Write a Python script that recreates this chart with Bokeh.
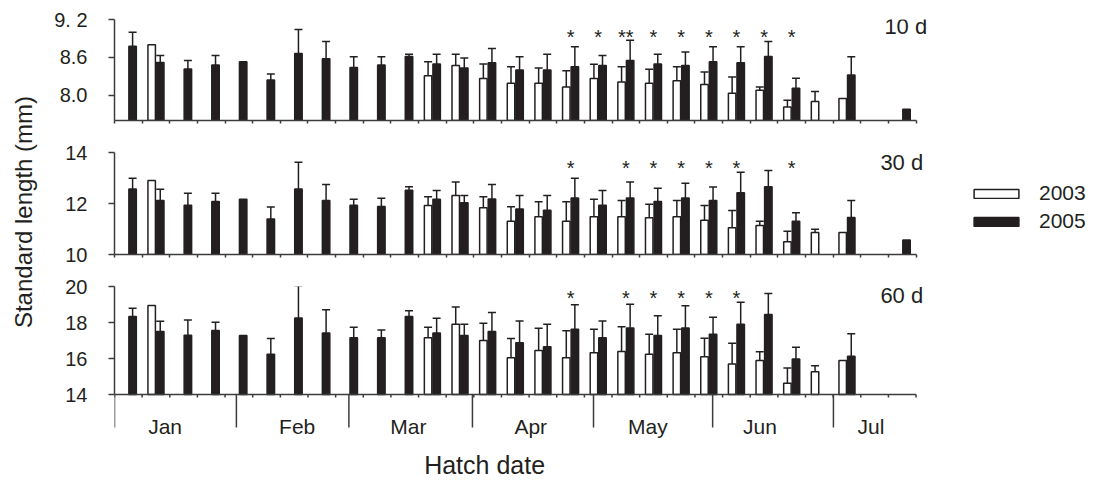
import math
from bokeh.plotting import figure
from bokeh.models import (ColumnDataSource, Range1d, FixedTicker, Whisker, TeeHead,
                          Label, Legend, LegendItem)
from bokeh.layouts import row, column
from bokeh.transform import dodge
from bokeh.core.properties import value
from bokeh.embed import file_html
from bokeh.resources import INLINE

N = None
FONT = "Liberation Sans"
INK = "#231f20"
AX = "#3c3c3c"

# ---------------- data (29 weekly hatch-date bins, Jan..Jul) ----------------
weeks = list(range(29))

# 10 d standard length (mm): means and standard errors
m10_2003 = [N, 8.80, N, N, N, N, N, N, N, N, N, 8.31, 8.47, 8.265, 8.19, 8.19, 8.13, 8.265,
            8.21, 8.19, 8.23, 8.17, 8.03, 8.08, 7.815, 7.90, 7.95, N, N]
e10_2003 = [N, 0, N, N, N, N, N, N, N, N, N, 0.22, 0.18, 0.23, 0.26, 0.24, 0.26, 0.225,
            0.24, 0.22, 0.22, 0.20, 0.26, 0.05, 0.105, 0.16, 0, N, N]
m10_2005 = [8.775, 8.52, 8.415, 8.48, 8.53, 8.24, 8.66, 8.58, 8.44, 8.48, 8.615, 8.495, 8.43,
            8.515, 8.40, 8.40, 8.45, 8.47, 8.55, 8.495, 8.47, 8.53, 8.515, 8.615, 8.11, N, 8.32, N, 7.78]
e10_2005 = [0.225, 0.11, 0.135, 0.15, 0, 0.095, 0.38, 0.27, 0.17, 0.13, 0.035, 0.155, 0.16,
            0.225, 0.21, 0.25, 0.32, 0.16, 0.32, 0.155, 0.215, 0.24, 0.255, 0.235, 0.16, N, 0.29, N, 0]

# 30 d
m30_2003 = [N, 12.90, N, N, N, N, N, N, N, N, N, 11.92, 12.31, 11.83, 11.30, 11.48, 11.30, 11.48,
            11.48, 11.44, 11.48, 11.34, 11.05, 11.14, 10.50, 10.86, 10.86, N, N]
e30_2003 = [N, 0, N, N, N, N, N, N, N, N, N, 0.34, 0.53, 0.43, 0.57, 0.59, 0.77, 0.69,
            0.64, 0.53, 0.64, 0.58, 0.68, 0.16, 0.41, 0.13, 0, N, N]
m30_2005 = [12.57, 12.12, 11.93, 12.08, 12.17, 11.39, 12.57, 12.12, 11.93, 11.88, 12.52, 12.17, 12.03,
            12.18, 11.78, 11.74, 12.22, 11.93, 12.22, 12.08, 12.22, 12.12, 12.42, 12.66, 11.30, N, 11.45, N, 10.57]
e30_2005 = [0.42, 0.44, 0.47, 0.32, 0, 0.47, 1.05, 0.63, 0.24, 0.33, 0.14, 0.34, 0.28,
            0.57, 0.53, 0.57, 0.77, 0.58, 0.62, 0.52, 0.57, 0.53, 0.81, 0.63, 0.34, N, 0.67, N, 0]

# 60 d
m60_2003 = [N, 18.95, N, N, N, N, N, N, N, N, N, 17.15, 17.90, 17.00, 16.04, 16.45, 16.04, 16.32,
            16.39, 16.24, 16.32, 16.10, 15.69, 15.89, 14.62, 15.27, 15.89, N, N]
e60_2003 = [N, 0, N, N, N, N, N, N, N, N, N, 0.59, 0.96, 0.96, 1.07, 1.23, 1.50, 1.31,
            1.37, 1.11, 1.31, 1.03, 1.16, 0.48, 0.85, 0.33, 0, N, N]
m60_2005 = [18.33, 17.50, 17.29, 17.55, 17.28, 16.24, 18.25, 17.42, 17.15, 17.15, 18.33, 17.42, 17.28,
            17.50, 16.87, 16.65, 17.63, 17.15, 17.70, 17.28, 17.70, 17.35, 17.90, 18.45, 15.97, N, 16.12, N, N]
e60_2005 = [0.46, 0.57, 0.85, 0.46, 0, 0.87, 1.79, 1.29, 0.59, 0.44, 0.33, 0.81, 0.62,
            1.06, 1.22, 1.25, 1.36, 0.94, 1.31, 1.10, 1.23, 0.94, 1.22, 1.16, 0.66, N, 1.25, N, N]

# significance marks (bin index, text)
stars10 = [16, 17, 18, 19, 20, 21, 22, 23, 24]
stars10_txt = ["*", "*", "**", "*", "*", "*", "*", "*", "*"]
stars30 = [16, 18, 19, 20, 21, 22, 24]
stars60 = [16, 18, 19, 20, 21, 22]

# axis ticks
yticks10 = [8.0, 8.6, 9.2]
yticks10_lbl = ["8.0", "8.6", "9. 2"]
yticks30 = [10, 12, 14]
yticks60 = [14, 16, 18, 20]
bin_edges = list(range(30))

months = ["Jan", "Feb", "Mar", "Apr", "May", "Jun", "Jul"]
month_start = [0, 4.41, 8.48, 12.95, 17.33, 21.64, 26.01]
month_mid = [1.83, 6.61, 10.63, 15.06, 19.30, 23.35, 27.37]

series_names = ["2003", "2005"]

# ---------------- layout constants ----------------
W_LAB = 40
W_MAIN = 1058
BL = 74
X_END = 35.6        # frame extends right so that panel tags / legend are not clipped
OFF = 0.155
BW = 0.27


def style_yaxis(p, yticks, ylabels, bounds):
    ya = p.yaxis[0]
    ya.ticker = FixedTicker(ticks=yticks)
    ya.major_label_overrides = {t: l for t, l in zip(yticks, ylabels)}
    ya.bounds = bounds
    ya.major_tick_out = 6
    ya.major_tick_in = 0
    ya.minor_tick_out = 0
    ya.minor_tick_in = 0
    ya.major_label_standoff = 21
    ya.major_label_text_font = FONT
    ya.major_label_text_font_size = "20px"
    ya.major_label_text_color = INK
    ya.axis_line_color = AX
    ya.axis_line_width = 1.5
    ya.major_tick_line_color = AX
    ya.major_tick_line_width = 1.5


def make_panel(height, btop, bbot, y0, y1, ybase, ytop, yticks, ylabels, m03, e03, m05, e05,
               star_idx, star_txt, star_y, tag, tag_x, tag_y, with_xaxis=True):
    p = figure(width=W_MAIN, height=height, output_backend="svg", toolbar_location=None,
               x_range=Range1d(0, X_END), y_range=Range1d(y0, y1),
               x_axis_location="below" if with_xaxis else None,
               min_border_left=BL, min_border_right=0, min_border_top=btop,
               min_border_bottom=bbot)
    p.outline_line_color = None
    p.grid.visible = False
    p.background_fill_color = "white"
    p.border_fill_color = "white"

    rends = []
    for m, e, off, fill in [(m03, e03, -OFF, "white"), (m05, e05, OFF, INK)]:
        xs = [w + 0.5 for w, v in zip(weeks, m) if v is not None]
        tops = [v for v in m if v is not None]
        src = ColumnDataSource(dict(x=xs, top=tops))
        r = p.vbar(x=dodge("x", off), top="top", bottom=ybase, width=BW, source=src,
                   fill_color=fill, line_color=INK, line_width=1.5)
        rends.append(r)
        ex = [w + 0.5 for w, v, s in zip(weeks, m, e) if v is not None and s]
        lo = [v for v, s in zip(m, e) if v is not None and s]
        hi = [v + s for v, s in zip(m, e) if v is not None and s]
        esrc = ColumnDataSource(dict(x=ex, lo=lo, hi=hi))
        wk = Whisker(base=dodge("x", off), lower="lo", upper="hi", source=esrc,
                     dimension="height", line_color=INK, line_width=1.5, lower_head=None,
                     upper_head=TeeHead(size=8, line_color=INK, line_width=1.5))
        p.add_layout(wk)

    p.text(x=[s + 0.5 for s in star_idx], y=[star_y] * len(star_idx), text=star_txt,
           text_align="center", text_baseline="middle", text_color=INK,
           text_font=value(FONT), text_font_size="20px")

    p.add_layout(Label(x=tag_x, y=tag_y, x_units="screen", y_units="screen", text=tag,
                       text_align="right", text_baseline="middle", text_color=INK,
                       text_font=FONT, text_font_size="22px"))

    style_yaxis(p, yticks, ylabels, (ybase, ytop))

    if with_xaxis:
        xa = p.xaxis[0]
        xa.ticker = FixedTicker(ticks=bin_edges)
        xa.bounds = (bin_edges[0], bin_edges[-1])
        xa.minor_tick_out = 0
        xa.minor_tick_in = 0
        xa.major_tick_out = 3
        xa.major_tick_in = 0
        xa.major_label_overrides = {t: "" for t in bin_edges}
        xa.major_label_text_font_size = "1px"
        xa.major_label_standoff = 0
        xa.axis_line_color = AX
        xa.axis_line_width = 1.5
        xa.major_tick_line_color = AX
        xa.major_tick_line_width = 1.5
    return p, rends


H10, H30, H60 = 136, 134, 209
p10, _ = make_panel(H10, 19, 16, 7.6, 9.2, 7.6, 9.2, yticks10, yticks10_lbl,
                    m10_2003, e10_2003, m10_2005, e10_2005,
                    stars10, stars10_txt, 8.926, "10 d", 812.7, 94.2)
p30, r30 = make_panel(H30, 16, 16, 10, 14, 10, 14, yticks30, [str(t) for t in yticks30],
                      m30_2003, e30_2003, m30_2005, e30_2005,
                      stars30, ["*"] * len(stars30), 13.41, "30 d", 808.7, 92.3)

# bottom panel: frame reaches down to the canvas bottom so that the hatch-date axis
# (drawn with glyphs through the panel's scales) and its texts are not clipped
TOP60 = 16
Y60_LOW = 9.28
p60, _ = make_panel(H60, TOP60, 0, Y60_LOW, 20, 14, 20, yticks60, [str(t) for t in yticks60],
                    m60_2003, e60_2003, m60_2005, e60_2005,
                    stars60, ["*"] * len(stars60), 19.36, "60 d", 808.7, 184,
                    with_xaxis=False)
px_unit = (H60 - TOP60) / (20 - Y60_LOW)
base = yticks60[0]
p60.segment(x0=[bin_edges[0]], x1=[bin_edges[-1]], y0=[base], y1=[base],
            line_color=AX, line_width=1.5)
p60.segment(x0=bin_edges, x1=bin_edges, y0=[base] * len(bin_edges),
            y1=[base - 3 / px_unit] * len(bin_edges), line_color=AX, line_width=1.5)
p60.segment(x0=month_start, x1=month_start, y0=[base] * len(month_start),
            y1=[base - 33 / px_unit] * len(month_start), line_color=AX, line_width=1.5)
p60.text(x=month_mid, y=[base - 31.5 / px_unit] * len(month_mid), text=months,
         text_align="center", text_baseline="middle", text_color=INK,
         text_font=value(FONT), text_font_size="21px")
p60.text(x=[13.39], y=[base - 70 / px_unit], text=["Hatch date"],
         text_align="center", text_baseline="middle", text_color=INK,
         text_font=value(FONT), text_font_size="25px")

legend = Legend(items=[LegendItem(label=series_names[0], renderers=[r30[0]]),
                       LegendItem(label=series_names[1], renderers=[r30[1]])],
                location=(854, 21), glyph_width=56, glyph_height=11, spacing=4,
                label_standoff=15, padding=0, margin=0, border_line_color=None,
                background_fill_alpha=0, label_text_font=FONT,
                label_text_font_size="21px", label_text_color=INK)
p30.add_layout(legend)

# y-axis title spanning the three panels
HT = H10 + H30 + H60
pl = figure(width=W_LAB, height=HT, output_backend="svg", toolbar_location=None,
            x_range=Range1d(0, 1), y_range=Range1d(0, 1), x_axis_location=None,
            y_axis_location=None, min_border=0)
pl.outline_line_color = None
pl.grid.visible = False
pl.add_layout(Label(x=22.8, y=HT - 211.5, x_units="screen", y_units="screen",
                    text="Standard length (mm)", angle=math.pi / 2, text_align="center",
                    text_baseline="middle", text_font=FONT, text_font_size="24px",
                    text_color=INK))

layout = row(pl, column(p10, p30, p60))
open("out.html", "w").write(file_html(layout, INLINE))
